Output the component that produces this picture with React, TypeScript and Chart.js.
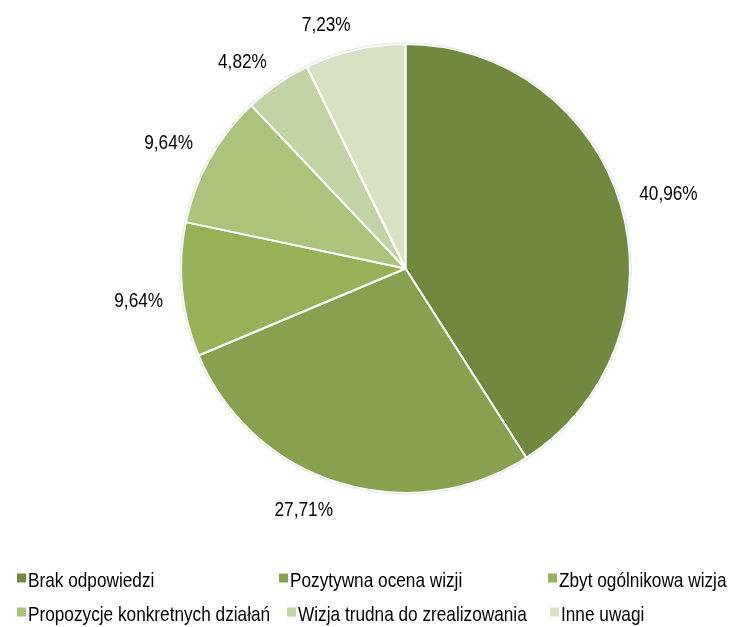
import React, { useEffect, useRef } from "react";
import { Chart, registerables } from "chart.js";

Chart.register(...registerables);

const categories = [
  "Brak odpowiedzi",
  "Pozytywna ocena wizji",
  "Zbyt ogólnikowa wizja",
  "Propozycje konkretnych działań",
  "Wizja trudna do zrealizowania",
  "Inne uwagi",
];
const shares = [40.96, 27.71, 9.64, 9.64, 4.82, 7.23];
const colors = ["#71893F", "#87A14F", "#97B156", "#ABC37B", "#C3D3A5", "#D7E2C4"];

const FONT = "21px 'Liberation Sans', Arial, sans-serif";
const SX = 0.82;
const CAP = 15;

const fmt = (v: number) => v.toFixed(2).replace(".", ",") + "%";

function drawText(ctx: CanvasRenderingContext2D, text: string, x: number, y: number, align: CanvasTextAlign) {
  ctx.save();
  ctx.translate(x, y);
  ctx.scale(SX, 1);
  ctx.textAlign = align;
  ctx.textBaseline = "alphabetic";
  ctx.fillText(text, 0, 0);
  ctx.restore();
}

const labelPlugin = {
  id: "pieLabels",
  afterDraw(chart: any) {
    const ctx: CanvasRenderingContext2D = chart.ctx;
    const meta = chart.getDatasetMeta(0);
    ctx.save();
    ctx.font = FONT;
    ctx.fillStyle = "#000";
    // subtle outer halo
    const a0 = meta.data[0];
    if (a0) {
      ctx.beginPath();
      ctx.arc(a0.x, a0.y, a0.outerRadius + 1, 0, Math.PI * 2);
      ctx.strokeStyle = "rgba(0,0,0,0.08)";
      ctx.lineWidth = 1.5;
      ctx.stroke();
    }
    meta.data.forEach((arc: any, i: number) => {
      const mid = (arc.startAngle + arc.endAngle) / 2;
      const ux = Math.cos(mid);
      const uy = Math.sin(mid);
      const ax = arc.x + (arc.outerRadius + 19) * ux;
      const ay = arc.y + (arc.outerRadius + 19) * uy;
      const align: CanvasTextAlign = ux >= 0 ? "left" : "right";
      const by = uy < 0 ? ay : ay + CAP;
      drawText(ctx, fmt(shares[i]), ax, by, align);
    });
    // legend
    const rows = [
      { y: 586.5, xs: [17, 279, 548] },
      { y: 620.5, xs: [17, 287, 550] },
    ];
    let k = 0;
    rows.forEach((row) => {
      row.xs.forEach((x) => {
        if (k >= categories.length) return;
        ctx.fillStyle = colors[k];
        ctx.fillRect(x, row.y - 13, 9, 9);
        ctx.fillStyle = "#000";
        drawText(ctx, categories[k], x + 11, row.y, "left");
        k++;
      });
    });
    ctx.restore();
  },
};

export default function App() {
  const ref = useRef<HTMLCanvasElement | null>(null);
  useEffect(() => {
    if (!ref.current) return;
    const chart = new Chart(ref.current, {
      type: "pie",
      data: {
        labels: categories,
        datasets: [
          {
            data: shares,
            backgroundColor: colors,
            borderColor: "#ffffff",
            borderWidth: 2,
          },
        ],
      },
      options: {
        responsive: false,
        animation: false,
        devicePixelRatio: 1,
        layout: { padding: { left: 180, top: 43, right: 103, bottom: 133 } },
        plugins: { legend: { display: false }, tooltip: { enabled: false } },
      },
      plugins: [labelPlugin],
    });
    return () => chart.destroy();
  }, []);
  return (
    <div style={{ position: "absolute", left: 0, top: 0, width: 734, height: 627, background: "#fff" }}>
      <canvas ref={ref} width={734} height={627} />
    </div>
  );
}
